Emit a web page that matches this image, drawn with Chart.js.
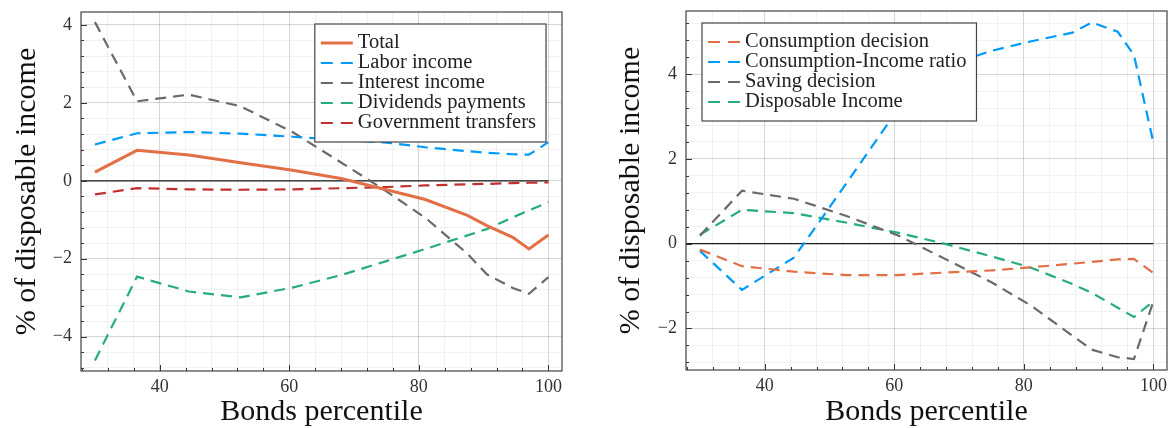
<!DOCTYPE html>
<html>
<head>
<meta charset="utf-8">
<script src="https://cdn.jsdelivr.net/npm/chart.js@4.4.1/dist/chart.umd.min.js"></script>
<style>
  body { margin: 0; background: #fff; }
  canvas { position: absolute; top: 0; }
  #left { left: 0; }
  #right { left: 586px; }
</style>
</head>
<body>
<canvas id="left" width="586" height="428"></canvas>
<canvas id="right" width="587" height="428"></canvas>
<script>
// bond percentiles (x values shared by every series)
const percentiles = [30, 36.5, 44.5, 52.5, 60.5, 68, 75, 81, 87.5, 90.5, 94.5, 97, 100];

// left panel: decomposition of income
const total      = [0.22, 0.78, 0.66, 0.46, 0.27, 0.06, -0.23, -0.48, -0.89, -1.15, -1.45, -1.75, -1.39];
const labor      = [0.93, 1.22, 1.25, 1.21, 1.13, 1.05, 0.98, 0.86, 0.76, 0.72, 0.68, 0.67, 0.99];
const interest   = [4.07, 2.04, 2.21, 1.91, 1.25, 0.47, -0.27, -0.95, -1.87, -2.40, -2.75, -2.90, -2.47];
const dividends  = [-4.61, -2.46, -2.84, -2.99, -2.74, -2.42, -2.06, -1.75, -1.40, -1.24, -0.94, -0.76, -0.55];
const transfers  = [-0.35, -0.19, -0.22, -0.23, -0.22, -0.19, -0.16, -0.12, -0.09, -0.08, -0.06, -0.05, -0.04];

// right panel: consumption / saving
const consDecision = [-0.14, -0.53, -0.66, -0.74, -0.74, -0.68, -0.63, -0.56, -0.47, -0.43, -0.37, -0.36, -0.69];
const consRatio    = [-0.17, -1.09, -0.33, 1.40, 3.16, 4.20, 4.55, 4.77, 4.98, 5.22, 5.00, 4.45, 2.38];
const saving       = [0.19, 1.25, 1.06, 0.66, 0.20, -0.37, -0.91, -1.45, -2.17, -2.50, -2.68, -2.72, -1.36];
const dispIncome   = [0.21, 0.80, 0.72, 0.50, 0.26, -0.01, -0.30, -0.56, -0.95, -1.16, -1.51, -1.73, -1.36];

const xTicksMajor = 20, xTicksMinor = 4;
const yTicksMajor = 2, yTicksMinor = 0.4;

const serif = "'Liberation Serif', 'Times New Roman', serif";
const ORANGE = '#e26f46', BLUE = '#009af9', GRAY = '#6a6a6a', GREEN = '#27ad78', RED = '#c12f2f';

const isMajor = (v, step) => Math.abs(v / step - Math.round(v / step)) < 1e-6;
const fmt = v => v < 0 ? '\u2212' + Math.abs(v) : String(v);
const pts = arr => percentiles.map((x, i) => ({x: x, y: arr[i]}));

const frame = {
  id: 'frame',
  beforeDatasetsDraw(chart) {
    const {ctx, chartArea: a, scales: {x, y}} = chart;
    const y0 = y.getPixelForValue(0);
    ctx.save();
    ctx.strokeStyle = '#1a1a1a';
    ctx.lineWidth = 1.2;
    ctx.beginPath();
    ctx.moveTo(a.left, y0);
    ctx.lineTo(x.getPixelForValue(100), y0);
    ctx.stroke();
    ctx.restore();
  },
  afterDatasetsDraw(chart) {
    const {ctx, chartArea: a, scales: {x, y}} = chart;
    ctx.save();
    ctx.strokeStyle = '#333';
    ctx.lineWidth = 1;
    x.ticks.forEach(t => {
      const px = Math.round(x.getPixelForValue(t.value)) + 0.5;
      const len = isMajor(t.value, xTicksMajor) ? 6 : 3;
      ctx.beginPath(); ctx.moveTo(px, a.bottom); ctx.lineTo(px, a.bottom - len); ctx.stroke();
    });
    y.ticks.forEach(t => {
      const py = Math.round(y.getPixelForValue(t.value)) + 0.5;
      const len = isMajor(t.value, yTicksMajor) ? 6 : 3;
      ctx.beginPath(); ctx.moveTo(a.left, py); ctx.lineTo(a.left + len, py); ctx.stroke();
    });
    ctx.strokeStyle = '#444';
    ctx.lineWidth = 1.2;
    ctx.strokeRect(a.left, a.top, a.right - a.left, a.bottom - a.top);
    ctx.restore();
  }
};

const boxLegend = {
  id: 'boxLegend',
  afterDraw(chart, args, opts) {
    const {ctx, chartArea: a} = chart;
    const sets = chart.data.datasets;
    ctx.save();
    ctx.font = '20.5px ' + serif;
    const textW = Math.max(...sets.map(d => ctx.measureText(d.label).width));
    const gapL = 6, sample = 32, gapT = 5, padR = 10, rowH = 20, padV = 9;
    const w = gapL + sample + gapT + textW + padR;
    const h = sets.length * rowH + 2 * padV;
    const left = opts.side === 'right' ? a.right - opts.dx - w : a.left + opts.dx;
    const top = a.top + opts.dy;
    ctx.fillStyle = '#fff';
    ctx.fillRect(left, top, w, h);
    ctx.strokeStyle = '#444';
    ctx.lineWidth = 1.2;
    ctx.strokeRect(left, top, w, h);
    sets.forEach((d, i) => {
      const cy = top + padV + rowH * (i + 0.5);
      ctx.beginPath();
      ctx.setLineDash(d.borderDash && d.borderDash.length ? [12, 8] : []);
      ctx.strokeStyle = d.borderColor;
      ctx.lineWidth = d.borderWidth;
      ctx.moveTo(left + gapL, cy);
      ctx.lineTo(left + gapL + sample, cy);
      ctx.stroke();
      ctx.setLineDash([]);
      ctx.fillStyle = '#222';
      ctx.textBaseline = 'middle';
      ctx.textAlign = 'left';
      ctx.fillText(d.label, left + gapL + sample + gapT, cy);
    });
    ctx.restore();
  }
};

const line = (label, arr, color, dashed, width) => ({
  label: label,
  data: pts(arr),
  borderColor: color,
  borderWidth: width || 2.2,
  borderDash: dashed ? [11, 7] : [],
  pointRadius: 0,
  tension: 0,
  fill: false
});

const gridColor = step => c => isMajor(c.tick.value, step) ? 'rgba(0,0,0,0.16)' : 'rgba(0,0,0,0.05)';

// fixed axis sizes, no extra label overflow padding
const fixSize = (w, h) => s => {
  if (w !== null) s.width = w;
  if (h !== null) s.height = h;
  s.paddingTop = 0; s.paddingBottom = 0; s.paddingLeft = 0; s.paddingRight = 0;
};

function makeChart(id, datasets, yMin, yMax, pad, yW, xH, yTitlePad, legendOpts) {
  return new Chart(document.getElementById(id), {
    type: 'line',
    data: { datasets: datasets },
    plugins: [frame, boxLegend],
    options: {
      responsive: false,
      animation: false,
      devicePixelRatio: 1,
      layout: { padding: pad },
      plugins: {
        legend: { display: false },
        tooltip: { enabled: false },
        boxLegend: legendOpts
      },
      scales: {
        x: {
          type: 'linear', min: 27.85, max: 102.1,
          afterFit: fixSize(null, xH),
          border: { display: false },
          grid: { drawTicks: false, color: gridColor(xTicksMajor), lineWidth: 1 },
          ticks: {
            stepSize: xTicksMinor, autoSkip: false, maxRotation: 0, includeBounds: false,
            maxTicksLimit: 200, padding: 7, color: '#333',
            font: { family: serif, size: 18, lineHeight: 1 },
            callback: v => isMajor(v, xTicksMajor) ? fmt(v) : ''
          },
          title: {
            display: true, text: 'Bonds percentile', color: '#111',
            font: { family: serif, size: 30, lineHeight: 1 },
            padding: { top: 0, bottom: 1 }
          }
        },
        y: {
          type: 'linear', min: yMin, max: yMax,
          afterFit: fixSize(yW, null),
          border: { display: false },
          grid: { drawTicks: false, color: gridColor(yTicksMajor), lineWidth: 1 },
          ticks: {
            stepSize: yTicksMinor, autoSkip: false, includeBounds: false,
            maxTicksLimit: 200, padding: 9, color: '#333',
            font: { family: serif, size: 18, lineHeight: 1 },
            callback: v => isMajor(v, yTicksMajor) ? fmt(v) : ''
          },
          title: {
            display: true, text: '% of disposable income', color: '#111',
            font: { family: serif, size: 30, lineHeight: 1 },
            padding: { top: yTitlePad, bottom: 0 }
          }
        }
      }
    }
  });
}

makeChart('left', [
  line('Total', total, ORANGE, false, 3),
  line('Labor income', labor, BLUE, true),
  line('Interest income', interest, GRAY, true),
  line('Dividends payments', dividends, GREEN, true),
  line('Government transfers', transfers, RED, true)
], -4.88, 4.33, { left: 0, right: 24, top: 12, bottom: 0 }, 81, 57, 12,
  { side: 'right', dx: 16, dy: 12 });

makeChart('right', [
  line('Consumption decision', consDecision, ORANGE, true),
  line('Consumption-Income ratio', consRatio, BLUE, true),
  line('Saving decision', saving, GRAY, true),
  line('Disposable Income', dispIncome, GREEN, true)
], -2.98, 5.49, { left: 0, right: 6, top: 11, bottom: 0 }, 100, 58, 30,
  { side: 'left', dx: 16, dy: 12 });
</script>
</body>
</html>
